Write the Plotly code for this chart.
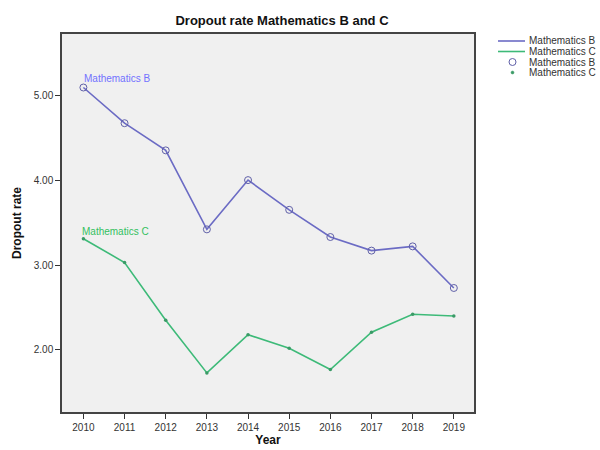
import plotly.graph_objects as go

years = [2010, 2011, 2012, 2013, 2014, 2015, 2016, 2017, 2018, 2019]
math_b = [5.09, 4.67, 4.35, 3.42, 4.00, 3.65, 3.33, 3.17, 3.22, 2.73]
math_c = [3.31, 3.03, 2.35, 1.73, 2.18, 2.02, 1.77, 2.21, 2.42, 2.40]
y_ticks = [2.0, 3.0, 4.0, 5.0]
y_tick_labels = ["2.00", "3.00", "4.00", "5.00"]
legend_labels = ["Mathematics B", "Mathematics C", "Mathematics B", "Mathematics C"]

col_b_line = "#6b6bc4"
col_c_line = "#3dba78"
col_b_text = "#7272ff"
col_c_text = "#33c060"
col_b_marker = "#6060a8"
col_c_marker = "#3a9a66"

FONT = "Liberation Sans, Arial, sans-serif"

FW, FH = 600, 450
# plot frame in window pixels
FRAME_L, FRAME_R, FRAME_T, FRAME_B = 62, 474, 34, 412
L, T = FRAME_L, FRAME_T
R, B = FW - FRAME_R, FH - FRAME_B
W = FRAME_R - FRAME_L
H = FRAME_B - FRAME_T

def px(x):
    return (x - FRAME_L) / W

def py(y):
    return (FRAME_B - y) / H

fig = go.Figure()
fig.add_trace(go.Scatter(x=years, y=math_b, mode="lines", name="Mathematics B",
                         line=dict(color=col_b_line, width=1.6)))
fig.add_trace(go.Scatter(x=years, y=math_c, mode="lines", name="Mathematics C",
                         line=dict(color=col_c_line, width=1.6)))
fig.add_trace(go.Scatter(x=years, y=math_b, mode="markers", name="Mathematics B",
                         marker=dict(symbol="circle-open", size=7, color=col_b_marker,
                                     line=dict(width=1))))
fig.add_trace(go.Scatter(x=years, y=math_c, mode="markers", name="Mathematics C",
                         marker=dict(symbol="circle", size=3.5, color=col_c_marker)))

fig.add_annotation(x=years[0], y=math_b[0], text="Mathematics B", showarrow=False,
                   xanchor="left", yanchor="bottom", xshift=-1, yshift=2,
                   font=dict(family=FONT, size=10, color=col_b_text))
fig.add_annotation(x=years[0], y=math_c[0], text="Mathematics C", showarrow=False,
                   xanchor="left", yanchor="bottom", xshift=-3, yshift=0,
                   font=dict(family=FONT, size=10, color=col_c_text))

# compact manual legend, as in the reference
rows_y = [41, 51.5, 62, 72.5]
for lab, ry in zip(legend_labels, rows_y):
    fig.add_annotation(xref="paper", yref="paper", x=px(527), y=py(ry), text=lab,
                       showarrow=False, xanchor="left", yanchor="middle",
                       font=dict(family=FONT, size=10, color="#333333"))
fig.add_shape(type="line", xref="paper", yref="paper", x0=px(498), x1=px(525),
              y0=py(rows_y[0]), y1=py(rows_y[0]), line=dict(color=col_b_line, width=1.6))
fig.add_shape(type="line", xref="paper", yref="paper", x0=px(498), x1=px(525),
              y0=py(rows_y[1]), y1=py(rows_y[1]), line=dict(color=col_c_line, width=1.6))
fig.add_shape(type="circle", xref="paper", yref="paper", x0=px(509), x1=px(516),
              y0=py(rows_y[2] + 3.5), y1=py(rows_y[2] - 3.5),
              line=dict(color=col_b_marker, width=1))
fig.add_shape(type="circle", xref="paper", yref="paper", x0=px(511), x1=px(514),
              y0=py(rows_y[3] + 1.5), y1=py(rows_y[3] - 1.5),
              line=dict(color=col_c_marker, width=0.5), fillcolor=col_c_marker)

fig.update_layout(
    width=FW, height=FH,
    margin=dict(l=L, r=R, t=T, b=B),
    paper_bgcolor="white",
    plot_bgcolor="#f0f0f0",
    font=dict(family=FONT, size=10, color="#333333"),
    title=dict(text="<b>Dropout rate Mathematics B and C</b>", x=0.47, xanchor="center",
               y=1 - 20 / FH, yanchor="middle",
               font=dict(family=FONT, size=13, color="#111111")),
    showlegend=False,
    xaxis=dict(range=[2009.48, 2019.49], tickmode="array", tickvals=years,
               ticks="outside", ticklen=5, tickcolor="#333333",
               showgrid=False, zeroline=False, automargin=False,
               showline=True, linecolor="#444444", linewidth=1.5, mirror=True,
               tickfont=dict(family=FONT, size=10, color="#333333"),
               title=dict(text="<b>Year</b>", standoff=3,
                          font=dict(family=FONT, size=12, color="#111111"))),
    yaxis=dict(range=[1.27, 5.72], tickmode="array", tickvals=y_ticks,
               ticktext=y_tick_labels,
               ticks="outside", ticklen=5, tickcolor="#333333",
               showgrid=False, zeroline=False, automargin=False,
               showline=True, linecolor="#444444", linewidth=1.5, mirror=True,
               tickfont=dict(family=FONT, size=10, color="#333333"),
               title=dict(text="<b>Dropout rate</b>", standoff=10,
                          font=dict(family=FONT, size=12, color="#111111"))),
)

fig.write_html("out.html",
               config={"displayModeBar": False},
               post_script="document.body.style.margin='0';document.body.style.overflow='hidden';")
